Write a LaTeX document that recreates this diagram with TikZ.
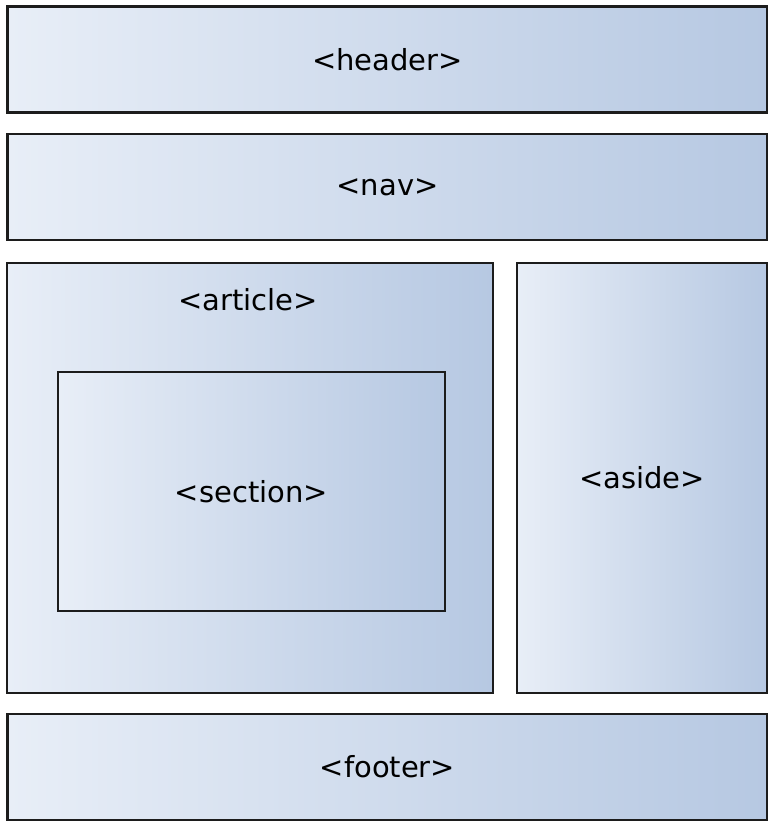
\documentclass[tikz,border=0pt]{standalone}
\usepackage{fontspec}
\setmainfont{DejaVu Sans}
\usetikzlibrary{positioning}

\definecolor{boxleft}{HTML}{E8EEF7}
\definecolor{boxright}{HTML}{B6C8E2}
\definecolor{boxline}{HTML}{1C1C1C}

\tikzset{
  tagbox/.style={draw=boxline, line width=2.4pt, left color=boxleft, right color=boxright,
    inner sep=0pt, font=\fontsize{29}{34}\selectfont},
  tagtext/.style={font=\fontsize{29}{34}\selectfont, inner sep=0pt}
}

\begin{document}
\begin{tikzpicture}[x=1pt, y=-1pt]
    \useasboundingbox (0,0) rectangle (768,822);

    % Full width bars
    \node[tagbox, minimum width=760pt, minimum height=106pt] (header) at (387.5,59.5) {<header>};
    \node[tagbox, minimum width=760pt, minimum height=106pt] (nav) at (387.5,187) {<nav>};
    \node[tagbox, minimum width=760pt, minimum height=106pt] (footer) at (387.5,767) {<footer>};

    % Article with section
    \node[tagbox, minimum width=486pt, minimum height=430pt] (article) at (250,478) {};
    \node[tagtext] (articletext) at (248,300) {<article>};
    \node[tagbox, minimum width=387pt, minimum height=239pt] (section) at (251.5,491.5) {<section>};

    % Aside
    \node[tagbox, minimum width=250pt, minimum height=430pt] (aside) at (642,478) {<aside>};
\end{tikzpicture}
\end{document}
